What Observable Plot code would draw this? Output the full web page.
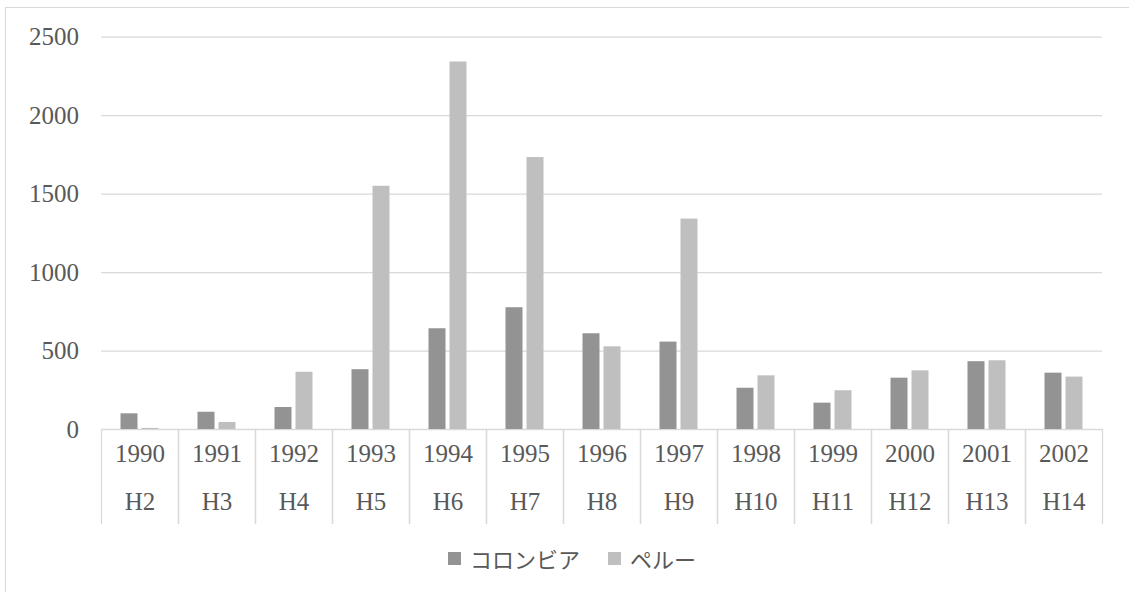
<!DOCTYPE html>
<html>
<head>
<meta charset="utf-8">
<script src="https://cdn.jsdelivr.net/npm/d3@7"></script>
<script src="https://cdn.jsdelivr.net/npm/@observablehq/plot@0.6"></script>
<style>
  body { margin: 0; background: #fff; }
  #wrap { position: relative; width: 1129px; height: 592px; overflow: hidden; background: #fff; }
  #chart { position: absolute; left: 0; top: 0; }
  #border { position: absolute; left: 5px; top: 7px; width: 1300px; height: 800px; border: 1.4px solid #d9d9d9; pointer-events: none; }
  #legend { position: absolute; left: 448px; top: 544px; height: 28px; display: flex; align-items: center;
            font-family: "Noto Sans CJK JP", sans-serif; font-size: 22px; color: #595959; }
  #legend .item { display: flex; align-items: center; margin-right: 28px; }
  #legend .sw { width: 13px; height: 13px; margin-right: 9px; }
</style>
</head>
<body>
<div id="wrap">
  <div id="chart"></div>
  <div id="border"></div>
  <div id="legend"></div>
</div>
<script>
// Category labels: Gregorian year and Heisei era year
const years = ["1990", "1991", "1992", "1993", "1994", "1995", "1996", "1997", "1998", "1999", "2000", "2001", "2002"];
const eras = ["H2", "H3", "H4", "H5", "H6", "H7", "H8", "H9", "H10", "H11", "H12", "H13", "H14"];

// Series
const seriesNames = ["コロンビア", "ペルー"];
const seriesColors = ["#939393", "#bfbfbf"];
const colombia = [100, 110, 140, 381, 642, 776, 610, 557, 263, 168, 327, 432, 359];
const peru = [7, 45, 365, 1550, 2342, 1733, 527, 1341, 342, 247, 374, 438, 334];

// Value axis ticks
const yTicks = [0, 500, 1000, 1500, 2000, 2500];

const rows = years.flatMap((year, i) => [
  {year, series: seriesNames[0], value: colombia[i]},
  {year, series: seriesNames[1], value: peru[i]}
]);
const labelRows = years.map((year, i) => ({year, era: eras[i]}));

const lineStyle = {stroke: "#d9d9d9", strokeWidth: 1.3};
const textStyle = {fill: "#595959", fontSize: 25, fontFamily: "'Liberation Serif', serif"};

const chart = Plot.plot({
  width: 1129,
  height: 530,
  marginLeft: 98.5,
  marginRight: 24.7,
  marginTop: 36.7,
  marginBottom: 101,
  style: {fontFamily: "'Liberation Serif', serif", fontSize: "25px", color: "#595959", background: "transparent", overflow: "visible"},
  fx: {domain: years, padding: 0, axis: null},
  x: {domain: seriesNames, paddingInner: 0.214, paddingOuter: 0.877, axis: null},
  y: {domain: [0, 2500], axis: null},
  color: {domain: seriesNames, range: seriesColors},
  marks: [
    Plot.gridY(yTicks, {...lineStyle, strokeOpacity: 1}),
    Plot.axisY(yTicks, {tickSize: 0, tickPadding: 22.5, label: null, tickFormat: d3.format("d"), ...textStyle}),
    Plot.barY(rows, {fx: "year", x: "series", y: "value", fill: "series"}),
    // category table separators below the baseline
    Plot.frame({anchor: "left", ...lineStyle, insetTop: 392.3, insetBottom: -93.7}),
    Plot.frame({anchor: "right", ...lineStyle, insetTop: 392.3, insetBottom: -93.7}),
    Plot.text(labelRows, {fx: "year", text: "year", frameAnchor: "bottom", dy: 32.5, ...textStyle}),
    Plot.text(labelRows, {fx: "year", text: "era", frameAnchor: "bottom", dy: 80, ...textStyle})
  ]
});
document.getElementById("chart").appendChild(chart);

// Legend
const legend = document.getElementById("legend");
seriesNames.forEach((name, i) => {
  const item = document.createElement("div");
  item.className = "item";
  const sw = document.createElement("span");
  sw.className = "sw";
  sw.style.background = seriesColors[i];
  const label = document.createElement("span");
  label.textContent = name;
  item.appendChild(sw);
  item.appendChild(label);
  legend.appendChild(item);
});
</script>
</body>
</html>
